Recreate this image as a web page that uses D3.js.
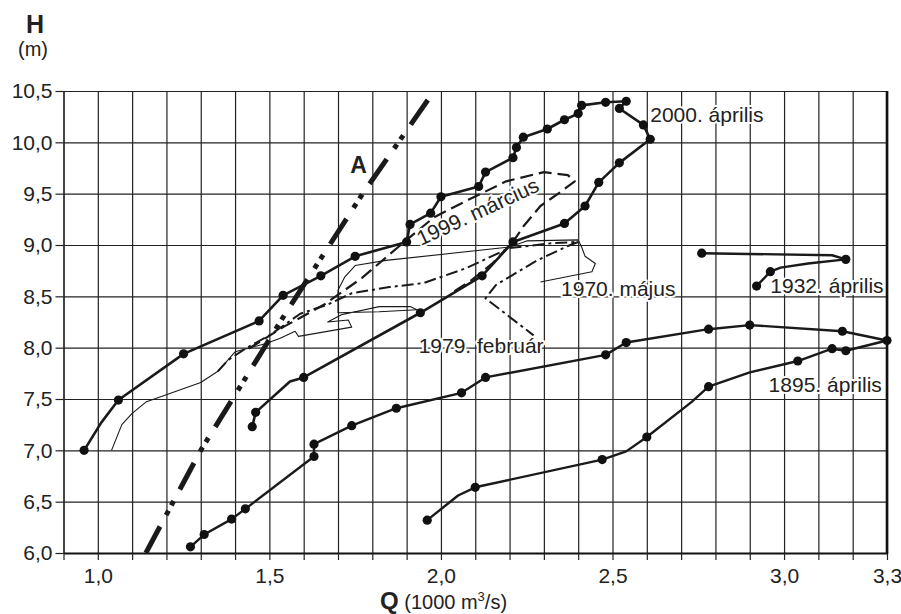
<!DOCTYPE html>
<meta charset="utf-8">
<style>
    body { margin: 0; background: #fff; }
    svg { font-family: "Liberation Sans", Arial, sans-serif; }
    .grid line { stroke: #222; stroke-width: 1.2px; }
    .grid path { display: none; }
    .ticks line { stroke: #222; stroke-width: 1.2px; }
    .ticks text { font-size: 21px; fill: #222; }
    .lbl { font-size: 21px; fill: #222; paint-order: stroke; stroke: #fff; stroke-width: 4px; stroke-linejoin: round; }
</style>
<svg width="901" height="614"></svg>
<script src="https://d3js.org/d3.v7.min.js"></script>
<script>

    // Q (1000 m3/s), H (m); third value 1 = measured point (dot)
    var s2000 = [[0.96,7.00,1],[1.01,7.27,0],[1.06,7.49,1],[1.25,7.94,1],[1.47,8.26,1],[1.54,8.51,1],
        [1.65,8.70,1],[1.75,8.89,1],[1.90,9.03,1],[1.91,9.20,1],[1.97,9.31,1],[2.00,9.47,1],
        [2.11,9.57,1],[2.13,9.71,1],[2.21,9.85,1],[2.22,9.95,1],[2.24,10.05,1],[2.31,10.13,1],
        [2.36,10.22,1],[2.40,10.28,1],[2.41,10.36,1],[2.48,10.39,1],[2.54,10.40,1],[2.52,10.33,1],
        [2.59,10.17,1],[2.61,10.03,1],[2.52,9.80,1],[2.46,9.61,1],[2.42,9.38,1],[2.36,9.21,1],
        [2.21,9.03,1],[2.12,8.70,1],[1.94,8.34,1],[1.60,7.71,1],[1.56,7.67,0],[1.46,7.37,1],[1.45,7.23,1]];

    var s1895 = [[1.27,6.06,1],[1.31,6.18,1],[1.39,6.33,1],[1.43,6.43,1],[1.63,6.94,1],[1.63,7.06,1],
        [1.74,7.24,1],[1.87,7.41,1],[2.06,7.56,1],[2.13,7.71,1],[2.48,7.93,1],[2.54,8.05,1],
        [2.78,8.18,1],[2.90,8.22,1],[3.17,8.16,1],[3.30,8.07,1],[3.18,7.97,1],[3.14,7.99,1],
        [3.04,7.87,1],[2.90,7.76,0],[2.78,7.62,1],[2.73,7.47,0],[2.60,7.13,1],[2.54,6.99,0],
        [2.47,6.91,1],[2.10,6.64,1],[2.05,6.56,0],[1.96,6.32,1]];

    var s1932 = [[2.76,8.92,1],[3.14,8.90,0],[3.18,8.86,1],[3.07,8.82,0],[2.99,8.78,0],[2.96,8.74,1],[2.92,8.60,1]];

    var s1999 = [[1.44,7.99],[1.54,8.20],[1.66,8.42],[1.77,8.68],[1.90,9.05],[1.98,9.27],[2.08,9.44],
        [2.19,9.62],[2.30,9.71],[2.37,9.68],[2.39,9.62],[2.35,9.52],[2.29,9.38],[2.24,9.18],
        [2.21,9.03],[2.15,8.82],[2.09,8.66],[2.03,8.53]];

    var s1979 = [[1.35,7.77],[1.38,7.88],[1.43,7.99],[1.50,8.12],[1.59,8.33],[1.67,8.42],[1.74,8.53],
        [1.85,8.59],[1.95,8.63],[2.07,8.77],[2.20,8.97],[2.33,9.02],[2.40,9.03],[2.37,8.99],
        [2.28,8.85],[2.20,8.69],[2.16,8.61],[2.13,8.48],[2.27,8.12]];

    var s1970 = [[1.04,7.00],[1.07,7.25],[1.10,7.36],[1.14,7.47],[1.30,7.66],[1.35,7.77],[1.40,7.96],
        [1.49,8.04],[1.53,8.09],[1.575,8.16],[1.585,8.11],[1.74,8.20],[1.73,8.27],[1.67,8.25],
        [1.71,8.32],[1.82,8.40],[1.91,8.40],[1.93,8.37],[1.82,8.35],[1.70,8.34],[1.70,8.56],
        [1.72,8.69],[1.75,8.80],[1.84,8.85],[2.20,8.98],[2.25,9.04],[2.40,9.05],[2.41,8.98],
        [2.42,8.89],[2.45,8.82],[2.44,8.74],[2.29,8.64]];

    var lineA = [[1.14,6.00],[1.30,7.00],[1.55,8.35],[1.77,9.49],[1.98,10.50]];

    var qTicks = d3.range(9, 34).map(function (d) { return d / 10; });
    var qLabels = [1.0, 1.5, 2.0, 2.5, 3.0, 3.3];
    var hTicks = d3.range(12, 22).map(function (d) { return d / 2; });

    var labels = [
        {t: "2000. április", q: 2.61, h: 10.20},
        {t: "1970. május", q: 2.35, h: 8.50},
        {t: "1932. április", q: 2.96, h: 8.53},
        {t: "1979. február", q: 1.935, h: 7.95},
        {t: "1895. április", q: 2.955, h: 7.57}
    ];

    var svg = d3.select("svg"),
        pLeft = 63.5, pRight = 887, pTop = 91, pBottom = 553;

    var x = d3.scaleLinear().domain([0.9, 3.3]).range([pLeft, pRight]);
    var y = d3.scaleLinear().domain([6.0, 10.5]).range([pBottom, pTop]);

    var fmt = d3.formatLocale({decimal: ",", thousands: " ", grouping: [3], currency: ["", ""]}).format(".1f");

    // grid
    svg.append("g").attr("class", "grid")
        .attr("transform", "translate(0," + pBottom + ")")
        .call(d3.axisBottom(x).tickValues(qTicks).tickSize(-(pBottom - pTop)).tickFormat(""));
    svg.append("g").attr("class", "grid")
        .attr("transform", "translate(" + pLeft + ",0)")
        .call(d3.axisLeft(y).tickValues(hTicks).tickSize(-(pRight - pLeft)).tickFormat(""));

    // ticks + labels
    var xa = svg.append("g").attr("class", "ticks")
        .attr("transform", "translate(0," + pBottom + ")")
        .call(d3.axisBottom(x).tickValues(qTicks).tickSize(7).tickSizeOuter(0).tickPadding(8)
            .tickFormat(function (d) {
                return qLabels.some(function (v) { return Math.abs(v - d) < 1e-6; }) ? fmt(d) : "";
            }));
    xa.select(".domain").attr("stroke", "#111").attr("stroke-width", 2.2);
    xa.selectAll("text").attr("font-family", null).attr("font-size", null);

    var ya = svg.append("g").attr("class", "ticks")
        .attr("transform", "translate(" + pLeft + ",0)")
        .call(d3.axisLeft(y).tickValues(hTicks).tickSize(8).tickSizeOuter(0).tickPadding(3).tickFormat(fmt));
    ya.select(".domain").attr("stroke", "#222").attr("stroke-width", 1.2);
    ya.selectAll("text").attr("font-family", null).attr("font-size", null);

    svg.append("line")
        .attr("x1", pRight).attr("x2", pRight).attr("y1", pTop).attr("y2", pBottom + 1)
        .attr("stroke", "#111").attr("stroke-width", 2.6);

    var line = d3.line()
        .x(function (d) { return x(d[0]); })
        .y(function (d) { return y(d[1]); });

    function draw(data, width, dash) {
        svg.append("path")
            .datum(data)
            .attr("d", line)
            .attr("fill", "none")
            .attr("stroke", "#1a1a1a")
            .attr("stroke-width", width)
            .attr("stroke-linejoin", "round")
            .attr("stroke-dasharray", dash);
    }

    draw(s1970, 1.1, null);
    draw(s1979, 2, "12,4,3,4");
    draw(s1999, 2.2, "13,6");
    draw(lineA, 5, "30,13,5,6,5,13");
    draw(s1895, 2.4, null);
    draw(s1932, 2.4, null);
    draw(s2000, 2.6, null);

    [s2000, s1895, s1932].forEach(function (s) {
        svg.append("g").selectAll("circle")
            .data(s.filter(function (d) { return d[2]; }))
            .enter().append("circle")
            .attr("cx", function (d) { return x(d[0]); })
            .attr("cy", function (d) { return y(d[1]); })
            .attr("r", 4.6)
            .attr("fill", "#111");
    });

    svg.append("g").selectAll("text")
        .data(labels)
        .enter().append("text")
        .attr("class", "lbl")
        .attr("x", function (d) { return x(d.q); })
        .attr("y", function (d) { return y(d.h); })
        .text(function (d) { return d.t; });

    svg.append("text")
        .attr("class", "lbl")
        .attr("transform", "translate(" + x(1.942) + "," + y(8.99) + ") rotate(-25)")
        .text("1999. március");

    svg.append("text")
        .attr("x", x(1.76)).attr("y", y(9.70))
        .attr("text-anchor", "middle")
        .attr("font-weight", "bold").attr("font-size", 23).attr("fill", "#222")
        .text("A");

    // axis titles
    svg.append("text")
        .attr("x", 35).attr("y", 33)
        .attr("text-anchor", "middle")
        .attr("font-weight", "bold").attr("font-size", 25).attr("fill", "#222")
        .text("H");
    svg.append("text")
        .attr("x", 33).attr("y", 56)
        .attr("text-anchor", "middle")
        .attr("font-size", 20).attr("fill", "#222")
        .text("(m)");

    var qt = svg.append("text")
        .attr("x", 380).attr("y", 609)
        .attr("font-size", 20).attr("fill", "#222");
    qt.append("tspan").attr("font-weight", "bold").attr("font-size", 24).text("Q");
    qt.append("tspan").text(" (1000 m");
    qt.append("tspan").attr("font-size", 13).attr("dy", -8).text("3");
    qt.append("tspan").attr("dy", 8).text("/s)");

</script>
